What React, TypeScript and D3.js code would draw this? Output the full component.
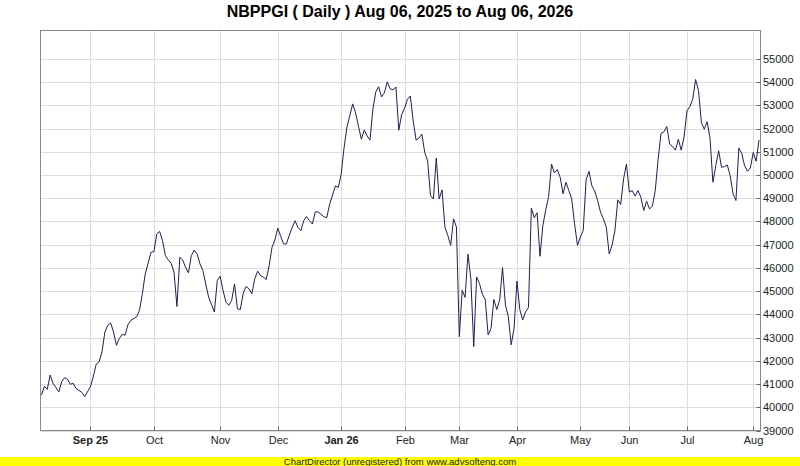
import * as d3 from "d3";
import { useEffect } from "react";

const WIDTH = 800;
const HEIGHT = 466;
const PLOT = { left: 40.5, right: 760.5, top: 30.5, bottom: 430.5 };

const TITLE = "NBPPGI ( Daily ) Aug 06, 2025 to Aug 06, 2026";
const FOOTER = "ChartDirector (unregistered) from www.advsofteng.com";

// trading session number (0 = Aug 06, 2025) and closing value
const session = [
  0, 1, 2, 3, 4, 6, 7, 8, 9, 10, 11, 12, 14, 15, 17, 18, 19, 20, 21, 22, 23, 24,
  25, 26, 27, 28, 29, 30, 31, 33, 34, 35, 36, 38, 39, 40, 41, 42, 43, 44, 45, 46,
  47, 48, 49, 50, 51, 52, 53, 54, 55, 56, 57, 58, 60, 61, 62, 63, 64, 65, 66, 67,
  68, 69, 70, 71, 72, 73, 74, 75, 76, 77, 78, 79, 80, 81, 82, 83, 84, 85, 86, 87,
  88, 89, 90, 91, 92, 93, 94, 95, 96, 97, 98, 99, 100, 102, 103, 104, 105, 106,
  108, 109, 110, 111, 112, 113, 114, 115, 116, 117, 118, 119, 120, 121, 122, 123,
  124, 125, 126, 127, 128, 129, 130, 131, 132, 133, 134, 135, 136, 137, 138, 139,
  140, 141, 142, 143, 144, 145, 146, 147, 148, 149, 150, 151, 152, 153, 154, 155,
  156, 157, 158, 159, 160, 161, 162, 163, 164, 165, 166, 167, 168, 169, 170, 171,
  172, 173, 174, 175, 176, 177, 178, 179, 180, 181, 182, 183, 184, 185, 186, 187,
  188, 189, 190, 191, 192, 193, 194, 195, 196, 197, 198, 199, 200, 201, 202, 203,
  204, 205, 206, 207, 208, 209, 210, 211, 212, 213, 214, 215, 216, 217, 218, 219,
  220, 221, 222, 223, 224, 225, 226, 227, 228, 229, 230, 231, 232, 233, 234, 235,
  236, 237, 238, 239, 240, 241, 242, 243, 244, 245, 246, 247, 248, 249,
];

const close = [
  40530, 40910, 40770, 41390, 41030, 40660, 41100, 41270, 41210, 40990, 41030,
  40810, 40640, 40460, 40890, 41340, 41860, 41960, 42390, 43240, 43530, 43630,
  43240, 42670, 42960, 43140, 43100, 43560, 43740, 43890, 44170, 44890, 45740,
  46670, 46700, 47460, 47570, 47170, 46530, 46340, 46200, 45810, 44340, 46460,
  46340, 46030, 45790, 46530, 46770, 46600, 46170, 45890, 45310, 44740, 44100,
  45460, 45640, 45030, 44530, 44390, 44600, 45310, 44240, 44210, 44910, 45200,
  45100, 44890, 45530, 45860, 45670, 45600, 45500, 46100, 46890, 47200, 47710,
  47360, 47030, 47030, 47410, 47740, 48030, 47740, 47600, 48030, 48210, 48030,
  47890, 48410, 48410, 48310, 48200, 48170, 48740, 49530, 49460, 50030, 51170,
  52060, 53060, 52670, 52100, 51540, 51930, 51690, 51500, 52830, 53570, 53800,
  53360, 53540, 54010, 53710, 53660, 53790, 51930, 52610, 52870, 53260, 53400,
  52330, 51500, 51590, 51760, 50970, 50610, 49110, 48970, 50730, 48970, 49360,
  47760, 47400, 46970, 48110, 47760, 43040, 45040, 44730, 46590, 45540, 42610,
  45610, 45330, 44870, 44640, 43110, 43400, 44640, 44210, 44610, 46010, 44400,
  43900, 42690, 43400, 45430, 44200, 43760, 44110, 44290, 48570, 48160, 48370,
  46500, 47830, 48500, 49070, 50470, 50090, 50230, 49900, 49190, 49690, 49330,
  48970, 47900, 46970, 47330, 47610, 49790, 50160, 49540, 49300, 48900, 48400,
  48110, 47760, 46610, 46970, 47610, 48930, 48730, 49830, 50470, 49260, 49330,
  49090, 49330, 49040, 48470, 48870, 48540, 48660, 49330, 50690, 51790, 51860,
  52090, 51330, 51230, 51070, 51540, 51070, 51640, 52760, 52940, 53260, 54110,
  53640, 52260, 51970, 52290, 51590, 49690, 50400, 51040, 50330, 50360, 50430,
  49970, 49190, 48900, 51160, 50930, 50400, 50160, 50300, 50970, 50590, 51510,
];

// first session of each month, used for x labels and vertical grid
const monthLabels = ["Sep 25", "Oct", "Nov", "Dec", "Jan 26", "Feb", "Mar", "Apr", "May", "Jun", "Jul", "Aug"];
const monthSession = [17, 39, 62, 82, 104, 126, 145, 165, 187, 204, 224, 247];

const priceTicks = [
  39000, 40000, 41000, 42000, 43000, 44000, 45000, 46000, 47000, 48000, 49000,
  50000, 51000, 52000, 53000, 54000, 55000,
];

const FONT = "'Liberation Sans', Arial, sans-serif";

export default function App() {
  useEffect(() => {
    document.body.style.margin = "0";
  }, []);

  const xScale = d3.scaleLinear().domain([0, 249]).range([41.5, 759]);
  const yScale = d3.scaleLinear().domain([39000, 56220]).range([430.5, 30.5]);

  const line = d3
    .line<number>()
    .x((_, i) => xScale(session[i]))
    .y((d) => yScale(d));

  return (
    <svg
      width={WIDTH}
      height={HEIGHT}
      viewBox={`0 0 ${WIDTH} ${HEIGHT}`}
      style={{ display: "block", background: "#fff", fontFamily: FONT }}
    >
      <text x={400} y={17} textAnchor="middle" fontSize={16} fontWeight="bold" fill="#000">
        {TITLE}
      </text>

      {/* grid */}
      <g stroke="#dcdcdc" strokeWidth={1}>
        {priceTicks.map((t) => (
          <line key={t} x1={PLOT.left} x2={PLOT.right} y1={Math.round(yScale(t)) + 0.5} y2={Math.round(yScale(t)) + 0.5} />
        ))}
        {monthSession.map((s) => (
          <line key={s} x1={Math.round(xScale(s)) + 0.5} x2={Math.round(xScale(s)) + 0.5} y1={PLOT.top} y2={PLOT.bottom} />
        ))}
      </g>

      {/* plot border */}
      <rect
        x={PLOT.left}
        y={PLOT.top}
        width={PLOT.right - PLOT.left}
        height={PLOT.bottom - PLOT.top}
        fill="none"
        stroke="#888"
      />

      {/* y axis on the right */}
      <g fontSize={11} fill="#222">
        {priceTicks.map((t) => {
          const y = Math.round(yScale(t)) + 0.5;
          return (
            <g key={t}>
              <line x1={PLOT.right - 4} x2={PLOT.right} y1={y} y2={y} stroke="#666" />
              <text x={763} y={y} dy="0.35em">
                {t}
              </text>
            </g>
          );
        })}
      </g>

      {/* x axis */}
      <g fontSize={11} fill="#222">
        {monthSession.map((s, i) => {
          const x = Math.round(xScale(s)) + 0.5;
          const bold = /\d/.test(monthLabels[i]);
          return (
            <g key={s}>
              <line x1={x} x2={x} y1={PLOT.bottom - 4} y2={PLOT.bottom} stroke="#666" />
              <text x={x} y={444} textAnchor="middle" fontWeight={bold ? "bold" : "normal"}>
                {monthLabels[i]}
              </text>
            </g>
          );
        })}
      </g>

      <path d={line(close) ?? ""} fill="none" stroke="#1e1e5a" strokeWidth={1} />

      {/* footer */}
      <rect x={0} y={457} width={WIDTH} height={HEIGHT - 457} fill="#ffff00" />
      <text x={400} y={465} textAnchor="middle" fontSize={9.5} fill="#222">
        {FOOTER}
      </text>
    </svg>
  );
}
